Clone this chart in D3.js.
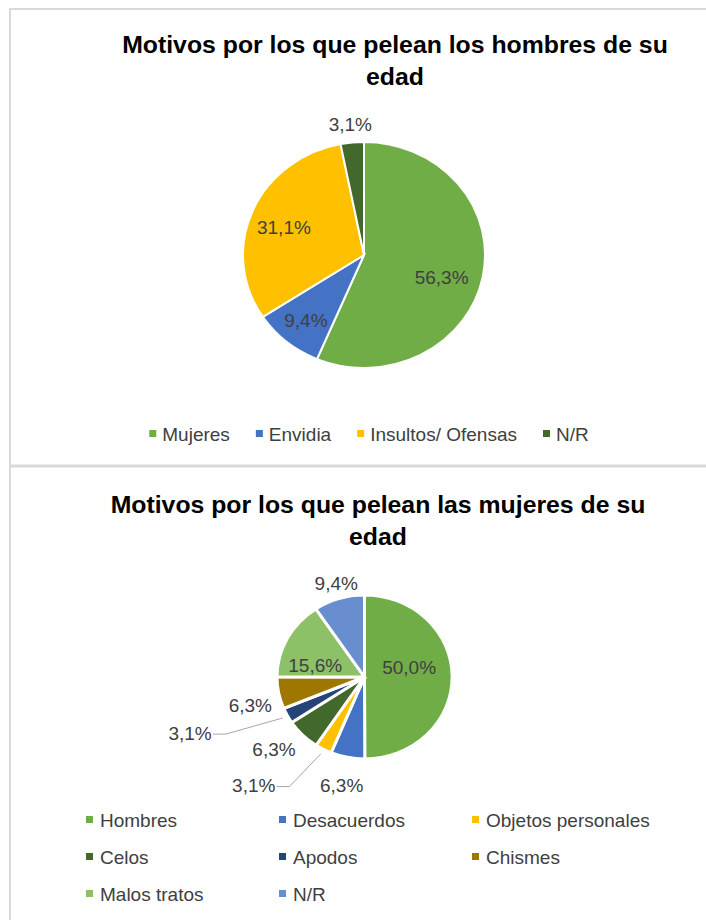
<!DOCTYPE html>
<html>
<head>
<meta charset="utf-8">
<script src="https://cdn.jsdelivr.net/npm/d3@7"></script>
<style>
  body { margin: 0; background: #fff; }
  text { font-family: "Liberation Sans", Arial, sans-serif; }
</style>
</head>
<body>
<div id="chart"></div>
<script>
// chart 1
const topTitle = ["Motivos por los que pelean los hombres de su", "edad"];
const topCategories = ["Mujeres", "Envidia", "Insultos/ Ofensas", "N/R"];
const topValues = [56.3, 9.4, 31.1, 3.1];
const topColors = ["#70ad47", "#4472c4", "#ffc000", "#43682b"];

// chart 2
const bottomTitle = ["Motivos por los que pelean las mujeres de su", "edad"];
const bottomCategories = ["Hombres", "Desacuerdos", "Objetos personales", "Celos", "Apodos", "Chismes", "Malos tratos", "N/R"];
const bottomValues = [50.0, 6.3, 3.1, 6.3, 3.1, 6.3, 15.6, 9.4];
const bottomColors = ["#70ad47", "#4472c4", "#ffc000", "#43682b", "#264478", "#9e7600", "#8cc168", "#698ed0"];

const width = 706, height = 920;
const fmt = d3.formatLocale({decimal: ",", thousands: ".", grouping: [3], currency: ["", ""]}).format(".1f");
const label = v => fmt(v) + "%";
const textSize = 19;

const svg = d3.select("#chart").append("svg")
    .attr("width", width)
    .attr("height", height);

svg.append("rect").attr("width", width).attr("height", height).attr("fill", "#fff");

// frame lines
svg.append("line").attr("x1", 9).attr("x2", width).attr("y1", 9).attr("y2", 9)
    .attr("stroke", "#d9d9d9").attr("stroke-width", 2);
svg.append("line").attr("x1", 10).attr("x2", 10).attr("y1", 8).attr("y2", height)
    .attr("stroke", "#d9d9d9").attr("stroke-width", 2);
svg.append("line").attr("x1", 9).attr("x2", width).attr("y1", 466).attr("y2", 466)
    .attr("stroke", "#d9d9d9").attr("stroke-width", 3);

function drawTitle(lines, cx, y0) {
    svg.append("text")
        .attr("text-anchor", "middle")
        .attr("font-size", 24.8)
        .attr("font-weight", "bold")
        .attr("fill", "#000")
        .selectAll("tspan")
        .data(lines)
        .enter()
        .append("tspan")
        .attr("x", cx)
        .attr("y", (d, i) => y0 + i * 32)
        .text(d => d);
}

function drawPie(cfg) {
    const pie = d3.pie().sort(null).value(d => d);
    const arcs = pie(cfg.values);
    const sx = cfg.rx / cfg.ry;
    const arc = d3.arc().innerRadius(0).outerRadius(cfg.ry);

    const g = svg.append("g")
        .attr("transform", `translate(${cfg.cx},${cfg.cy}) scale(${sx},1)`);
    g.selectAll("path")
        .data(arcs)
        .enter()
        .append("path")
        .attr("d", arc)
        .attr("fill", (d, i) => cfg.colors[i])
        .attr("stroke", "#fff")
        .attr("stroke-width", cfg.strokeWidth)
        .attr("vector-effect", "non-scaling-stroke");

    // point on the ellipse at mid-angle, k = fraction of the radius
    const at = (d, k) => {
        const a = (d.startAngle + d.endAngle) / 2;
        return [cfg.cx + cfg.rx * k * Math.sin(a), cfg.cy - cfg.ry * k * Math.cos(a)];
    };

    arcs.forEach((d, i) => {
        const p = at(d, cfg.labelK[i]);
        const s = cfg.labelShift[i];
        const x = p[0] + s[0], y = p[1] + s[1];
        const t = svg.append("text")
            .attr("x", x)
            .attr("y", y)
            .attr("dy", "0.35em")
            .attr("text-anchor", "middle")
            .attr("font-size", textSize)
            .attr("fill", "#404040")
            .text(label(d.data));
        if (cfg.leader && cfg.leader[i]) {
            const bb = t.node().getBBox();
            const e = at(d, 1.06);
            const xr = bb.x + bb.width;
            svg.append("polyline")
                .attr("points", [[xr + 1, y + 1], [xr + 14, y + 1], e].map(q => q.join(",")).join(" "))
                .attr("fill", "none")
                .attr("stroke", "#a6a6a6")
                .attr("stroke-width", 1);
        }
    });
}

function drawFlowLegend(cats, colors, cx, y) {
    const g = svg.append("g");
    let x = 0;
    cats.forEach((c, i) => {
        g.append("rect")
            .attr("x", x).attr("y", y - 4)
            .attr("width", 7).attr("height", 7)
            .attr("fill", colors[i]);
        const t = g.append("text")
            .attr("x", x + 13).attr("y", y)
            .attr("dy", "0.35em")
            .attr("font-size", textSize)
            .attr("fill", "#404040")
            .text(c);
        x += 13 + t.node().getComputedTextLength() + 26;
    });
    const total = x - 26;
    g.attr("transform", `translate(${cx - total / 2},0)`);
}

function drawGridLegend(cats, colors, x0, colW, y0, rowH, cols) {
    const items = svg.selectAll(".legend2")
        .data(cats)
        .enter()
        .append("g")
        .attr("class", "legend2")
        .attr("transform", (d, i) => `translate(${x0 + (i % cols) * colW},${y0 + Math.floor(i / cols) * rowH})`);
    items.append("rect")
        .attr("x", 0).attr("y", -4)
        .attr("width", 7).attr("height", 7)
        .attr("fill", (d, i) => colors[i]);
    items.append("text")
        .attr("x", 14).attr("y", 0)
        .attr("dy", "0.35em")
        .attr("font-size", textSize)
        .attr("fill", "#404040")
        .text(d => d);
}

// top chart
drawTitle(topTitle, 395, 53);
drawPie({
    values: topValues, colors: topColors,
    cx: 364, cy: 255, rx: 121, ry: 113, strokeWidth: 2,
    labelK: [0.68, 0.75, 0.7, 1.16],
    labelShift: [[-3, 7], [0, 0], [-2, 3], [0, 0]]
});
drawFlowLegend(topCategories, topColors, 369, 434);

// bottom chart
drawTitle(bottomTitle, 378, 513);
drawPie({
    values: bottomValues, colors: bottomColors,
    cx: 364.5, cy: 677, rx: 87.5, ry: 82, strokeWidth: 3,
    labelK: [0.51, 1.35, 1.5, 1.254, 1.45, 1.33, 0.6, 1.19],
    labelShift: [[0, -9.5], [0, 0], [-49, 0], [-13, 0], [-62.5, 0], [0, 7], [-3, 12], [2, 0]],
    leader: [false, false, true, false, true, false, false, false]
});
drawGridLegend(bottomCategories, bottomColors, 86, 193, 820, 37, 3);
</script>
</body>
</html>
